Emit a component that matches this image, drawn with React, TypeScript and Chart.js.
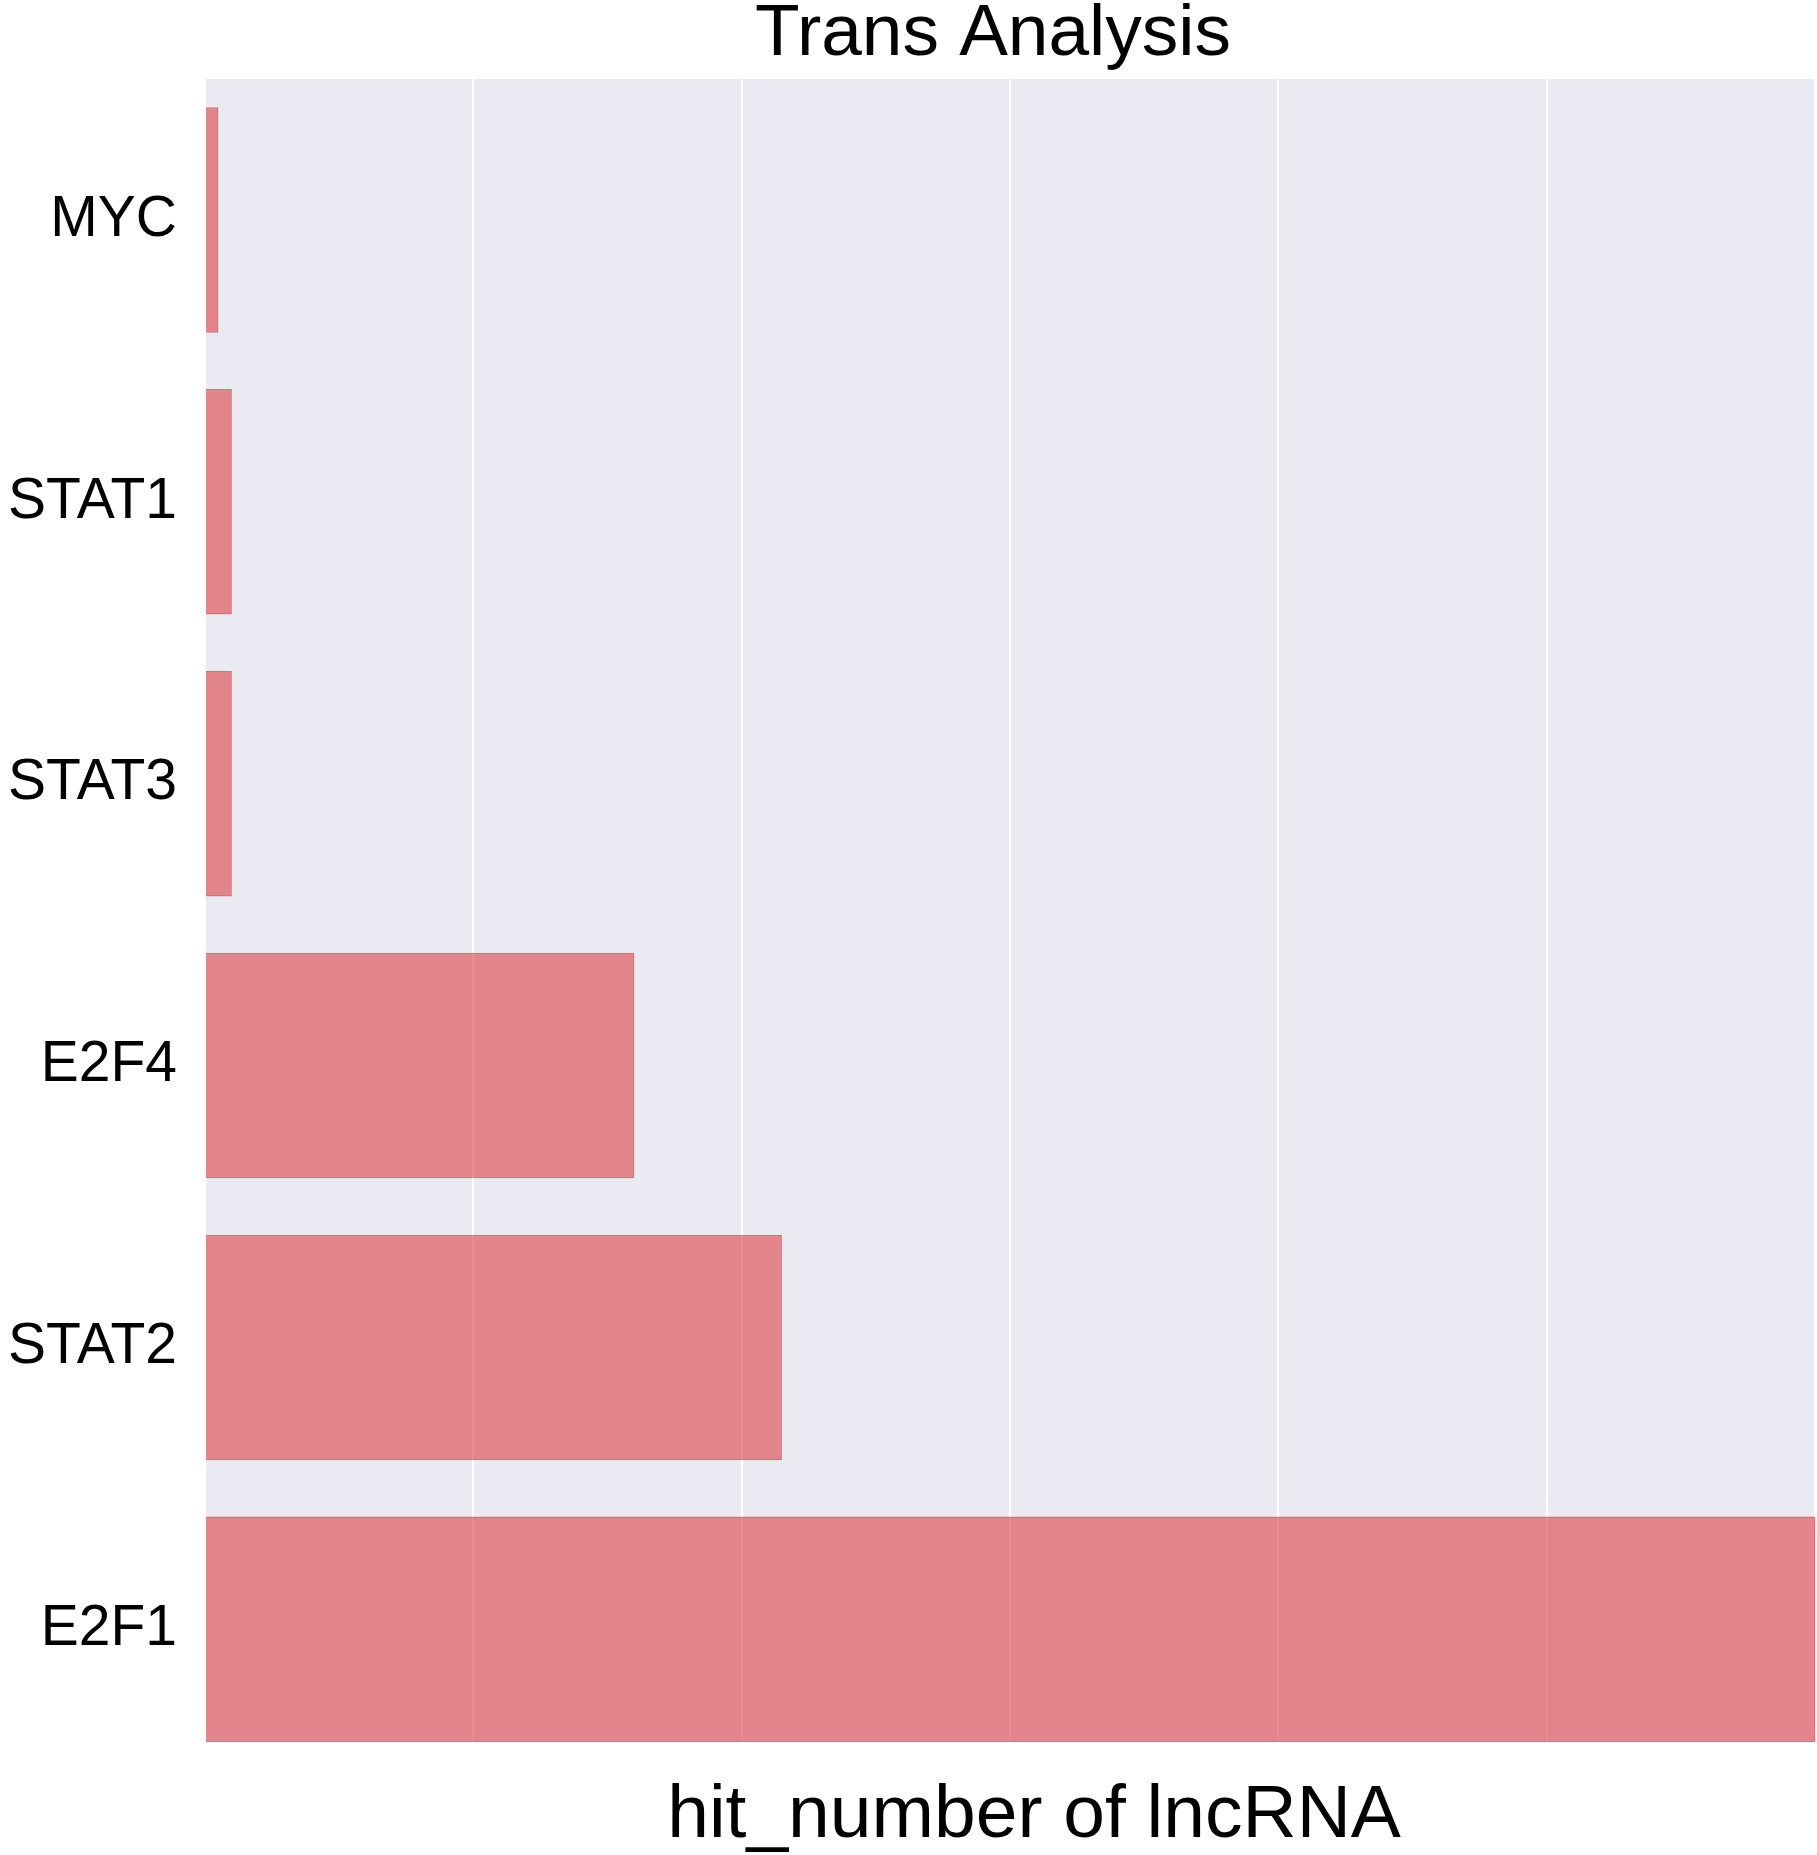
import React, { useEffect, useRef } from 'react';
import { Chart, registerables } from 'chart.js';

Chart.register(...registerables);

const categories = ['MYC', 'STAT1', 'STAT3', 'E2F4', 'STAT2', 'E2F1'];
const hitNumbers = [1, 2, 2, 32, 43, 120];
const xGridValues = [0, 20, 40, 60, 80, 100, 120];
const chartTitle = 'Trans Analysis';
const xAxisTitle = 'hit_number of lncRNA';

const FONT = '"Liberation Sans", Arial, Helvetica, sans-serif';

export default function App() {
  const ref = useRef<HTMLCanvasElement>(null);

  useEffect(() => {
    document.body.style.margin = '0';
    document.body.style.overflow = 'hidden';
    const canvas = ref.current!;

    const bgPlugin = {
      id: 'plotBg',
      beforeDraw(chart: any) {
        const { ctx, chartArea: a } = chart;
        ctx.save();
        ctx.fillStyle = '#EAEAF2';
        ctx.fillRect(a.left, a.top, a.right - a.left, a.bottom - a.top);
        ctx.restore();
      },
    };

    const textPlugin = {
      id: 'texts',
      afterDraw(chart: any) {
        const { ctx } = chart;
        ctx.save();
        ctx.fillStyle = '#000';
        ctx.textAlign = 'center';
        ctx.textBaseline = 'alphabetic';
        ctx.font = `73px ${FONT}`;
        ctx.fillText(chartTitle, 993, 55);
        ctx.font = `75px ${FONT}`;
        ctx.fillText(xAxisTitle, 1034, 1837);
        ctx.restore();
      },
    };

    const chart = new Chart(canvas, {
      type: 'bar',
      data: {
        datasets: [
          {
            data: categories.map((c, i) => ({ x: hitNumbers[i], y: i })) as any,
            backgroundColor: 'rgba(221,62,68,0.6)',
            borderColor: 'rgba(205,70,80,0.75)',
            borderWidth: 1.5,
            barPercentage: 0.8,
            categoryPercentage: 1,
          },
        ],
      },
      options: {
        indexAxis: 'y',
        responsive: false,
        animation: false,
        devicePixelRatio: 1,
        layout: { padding: { top: 79, right: 2, bottom: 113, left: 0 } },
        plugins: {
          legend: { display: false },
          tooltip: { enabled: false },
          title: { display: false },
        },
        scales: {
          x: {
            type: 'linear',
            min: 0,
            max: 120,
            offset: false,
            afterBuildTicks: (s: any) => {
              s.ticks = xGridValues.map((v) => ({ value: v }));
            },
            ticks: { display: false },
            grid: { color: '#ffffff', lineWidth: 2, drawTicks: false },
            border: { display: false },
          },
          y: {
            type: 'linear',
            reverse: true,
            offset: false,
            min: -0.5,
            max: 5.4,
            afterBuildTicks: (s: any) => {
              s.ticks = categories.map((_, i) => ({ value: i }));
            },
            afterFit: (s: any) => {
              s.width = 205;
            },
            ticks: {
              callback: (v: any) => categories[Math.round(Number(v))] ?? '',
              font: { size: 57, family: FONT },
              color: '#000',
              padding: 28,
              autoSkip: false,
            },
            grid: { display: false, drawTicks: false },
            border: { display: false },
          },
        },
      } as any,
      plugins: [bgPlugin, textPlugin],
    });

    return () => chart.destroy();
  }, []);

  return <canvas ref={ref} width={1817} height={1855} style={{ display: 'block', width: 1817, height: 1855 }} />;
}
